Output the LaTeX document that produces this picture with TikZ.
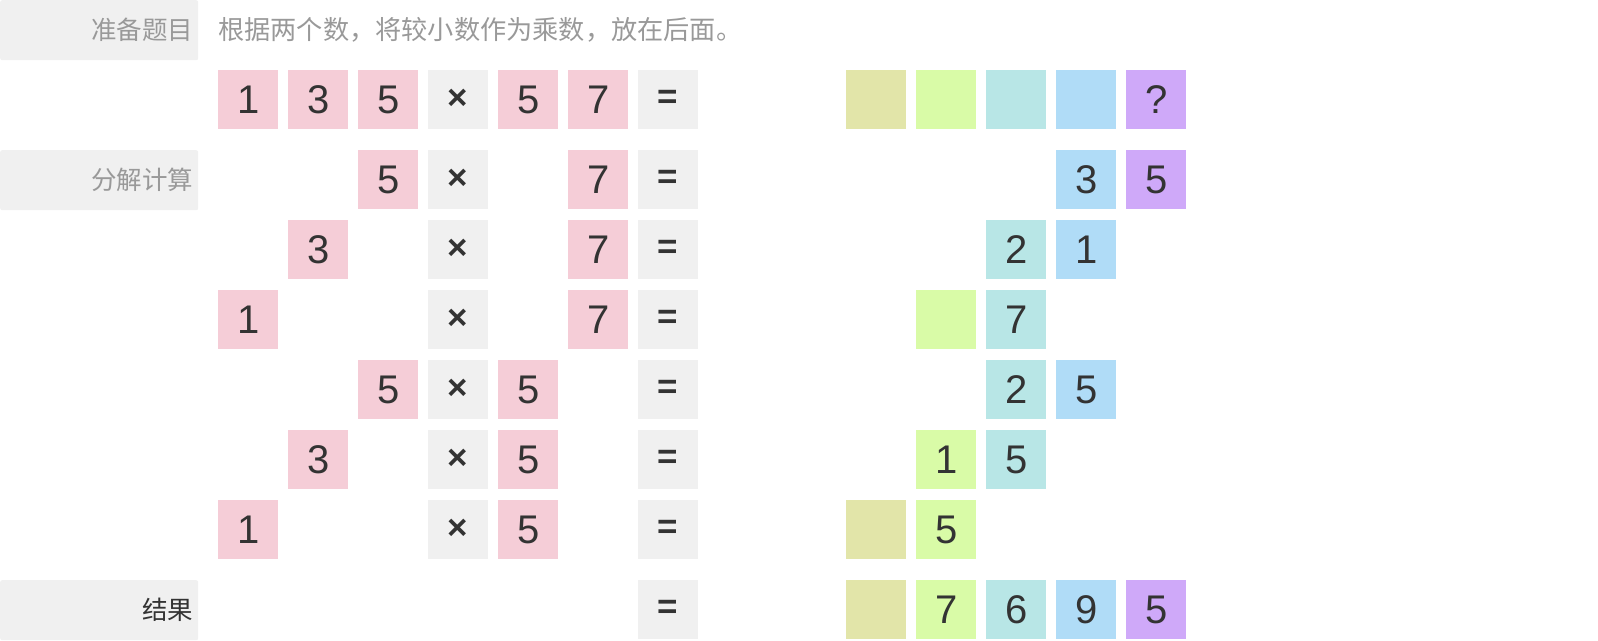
\documentclass[tikz,border=0pt]{standalone}
\usepackage{fontspec}
\usepackage{tikz}
\usetikzlibrary{positioning}
\newfontfamily\cjkfont{Noto Sans CJK SC}
\newfontfamily\numfont{Liberation Sans}
\definecolor{cellpink}{HTML}{F5CDD7}
\definecolor{cellgray}{HTML}{F0F0F0}
\definecolor{cellolive}{HTML}{E2E5A9}
\definecolor{cellgreen}{HTML}{D9FBA7}
\definecolor{cellcyan}{HTML}{B8E6E6}
\definecolor{cellblue}{HTML}{B0DCF7}
\definecolor{cellpurple}{HTML}{CFA9F9}
\definecolor{celltext}{HTML}{333333}
\definecolor{tagtext}{HTML}{999999}
\tikzset{
    raw cell/.style={rectangle, anchor=north west, minimum width=60pt, minimum height=59pt, inner sep=0pt, text=celltext, font=\numfont\fontsize{40}{40}\selectfont},
    pk cell/.style={raw cell, fill=cellpink},
    op cell/.style={raw cell, fill=cellgray, font=\numfont\bfseries\fontsize{35}{35}\selectfont},
    ol cell/.style={raw cell, fill=cellolive},
    gn cell/.style={raw cell, fill=cellgreen},
    cy cell/.style={raw cell, fill=cellcyan},
    bl cell/.style={raw cell, fill=cellblue},
    pu cell/.style={raw cell, fill=cellpurple},
    tag/.style={rectangle, anchor=north west, fill=cellgray, rounded corners=2pt, minimum width=198pt, minimum height=60pt, inner ysep=0pt, inner xsep=5pt, text width=188pt, align=right, text=tagtext, font=\cjkfont\fontsize{25.5}{25.5}\selectfont}
}
\begin{document}
\begin{tikzpicture}[x=1pt, y=-1pt]
    \useasboundingbox (0,0) rectangle (1598,640);
    \node[tag] (tag1) at (0,0) {准备题目};
    \node[tag] (tag2) at (0,150) {分解计算};
    \node[tag, text=celltext] (tag3) at (0,580) {结果};
    \node[anchor=west, inner sep=0pt, text=tagtext, font=\cjkfont\fontsize{26.2}{26.2}\selectfont] (hint) at (218,30) {根据两个数，将较小数作为乘数，放在后面。};

    \node[pk cell] (q1) at (218,70) {1};
    \node[pk cell] (q2) at (288,70) {3};
    \node[pk cell] (q3) at (358,70) {5};
    \node[op cell] (qx) at (428,70) {×};
    \node[pk cell] (q4) at (498,70) {5};
    \node[pk cell] (q5) at (568,70) {7};
    \node[op cell] (qe) at (638,70) {=};
    \node[ol cell] (qa) at (846,70) {};
    \node[gn cell] (qb) at (916,70) {};
    \node[cy cell] (qc) at (986,70) {};
    \node[bl cell] (qd) at (1056,70) {};
    \node[pu cell] (qf) at (1126,70) {?};

    \node[pk cell] (d1a) at (358,150) {5};
    \node[op cell] (d1x) at (428,150) {×};
    \node[pk cell] (d1b) at (568,150) {7};
    \node[op cell] (d1e) at (638,150) {=};
    \node[bl cell] (d1c) at (1056,150) {3};
    \node[pu cell] (d1d) at (1126,150) {5};

    \node[pk cell] (d2a) at (288,220) {3};
    \node[op cell] (d2x) at (428,220) {×};
    \node[pk cell] (d2b) at (568,220) {7};
    \node[op cell] (d2e) at (638,220) {=};
    \node[cy cell] (d2c) at (986,220) {2};
    \node[bl cell] (d2d) at (1056,220) {1};

    \node[pk cell] (d3a) at (218,290) {1};
    \node[op cell] (d3x) at (428,290) {×};
    \node[pk cell] (d3b) at (568,290) {7};
    \node[op cell] (d3e) at (638,290) {=};
    \node[gn cell] (d3c) at (916,290) {};
    \node[cy cell] (d3d) at (986,290) {7};

    \node[pk cell] (d4a) at (358,360) {5};
    \node[op cell] (d4x) at (428,360) {×};
    \node[pk cell] (d4b) at (498,360) {5};
    \node[op cell] (d4e) at (638,360) {=};
    \node[cy cell] (d4c) at (986,360) {2};
    \node[bl cell] (d4d) at (1056,360) {5};

    \node[pk cell] (d5a) at (288,430) {3};
    \node[op cell] (d5x) at (428,430) {×};
    \node[pk cell] (d5b) at (498,430) {5};
    \node[op cell] (d5e) at (638,430) {=};
    \node[gn cell] (d5c) at (916,430) {1};
    \node[cy cell] (d5d) at (986,430) {5};

    \node[pk cell] (d6a) at (218,500) {1};
    \node[op cell] (d6x) at (428,500) {×};
    \node[pk cell] (d6b) at (498,500) {5};
    \node[op cell] (d6e) at (638,500) {=};
    \node[ol cell] (d6c) at (846,500) {};
    \node[gn cell] (d6d) at (916,500) {5};

    \node[op cell] (re) at (638,580) {=};
    \node[ol cell] (ra) at (846,580) {};
    \node[gn cell] (rb) at (916,580) {7};
    \node[cy cell] (rc) at (986,580) {6};
    \node[bl cell] (rd) at (1056,580) {9};
    \node[pu cell] (rf) at (1126,580) {5};
\end{tikzpicture}
\end{document}
